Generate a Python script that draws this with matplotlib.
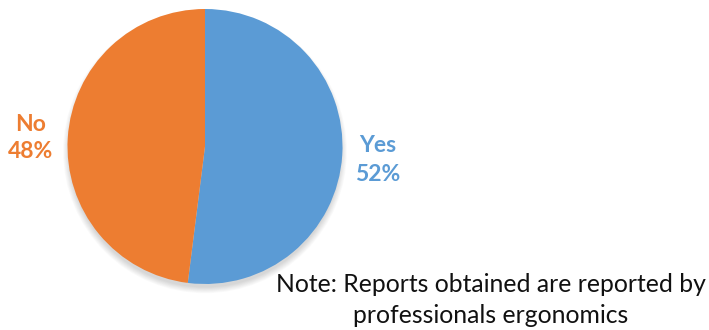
import matplotlib
matplotlib.use("Agg")
import matplotlib.pyplot as plt
from matplotlib.patches import Circle

labels = ["Yes", "No"]
shares = [52, 48]
colors = ["#5B9BD5", "#ED7D31"]
note_lines = ["Note: Reports obtained are reported by", "professionals ergonomics"]

W, H = 709, 330
fig = plt.figure(figsize=(W / 100, H / 100), dpi=100)

# pie placed in pixel terms: centre (205, 146.5), radius 137.5
cx, cy, r = 205, 146.5, 137.5
ax = fig.add_axes([(cx - r) / W, (H - cy - r) / H, 2 * r / W, 2 * r / H])
ax.set_xlim(-1, 1)
ax.set_ylim(-1, 1)
ax.set_aspect("equal")
ax.axis("off")

# soft drop shadow beneath the pie
for i in range(8):
    ax.add_patch(Circle((0, -0.035), 0.99 + 0.006 * i, color="black",
                        alpha=0.02, lw=0, zorder=0, clip_on=False))

ax.pie(shares, colors=colors, startangle=90, counterclock=False,
       radius=1.0, wedgeprops=dict(linewidth=0))
ax.set_xlim(-1, 1)
ax.set_ylim(-1, 1)

font = "Lato"

def px(x, y):
    return x / W, 1 - y / H

# data labels
fig.text(*px(378, 152), labels[0], color=colors[0], fontsize=16.5,
         fontweight="bold", family=font, ha="center", va="baseline")
fig.text(*px(378, 181), f"{shares[0]}%", color=colors[0], fontsize=16.5,
         fontweight="bold", family=font, ha="center", va="baseline")
fig.text(*px(31, 131), labels[1], color=colors[1], fontsize=16.5,
         fontweight="bold", family=font, ha="center", va="baseline")
fig.text(*px(31, 158), f"{shares[1]}%", color=colors[1], fontsize=16.5,
         fontweight="bold", family=font, ha="center", va="baseline")

# footnote
fig.text(*px(491, 292), note_lines[0], color="#111111", fontsize=17.8,
         family=font, ha="center", va="baseline")
fig.text(*px(491, 323), note_lines[1], color="#111111", fontsize=17.8,
         family=font, ha="center", va="baseline")

fig.savefig("out.png", dpi=100, facecolor="white")
